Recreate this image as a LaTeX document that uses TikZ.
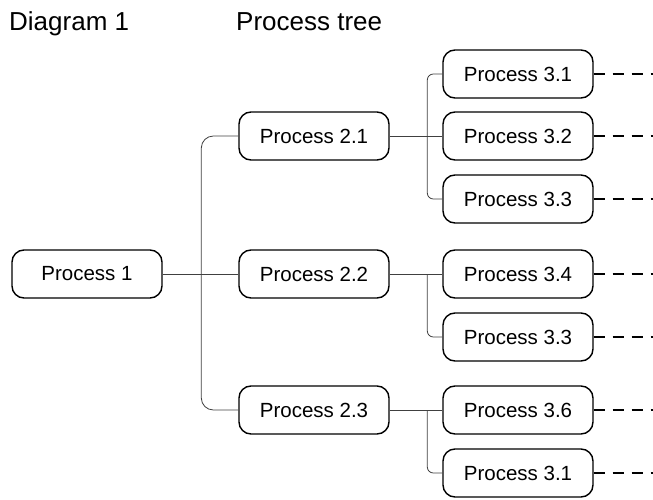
\documentclass[tikz,border=0pt]{standalone}
\usepackage{fontspec}
\setmainfont{Liberation Sans}
\begin{document}
\begin{tikzpicture}[x=1pt,y=-1pt,
    proc/.style={draw,line width=1.4pt,rounded corners=12pt,minimum width=150pt,minimum height=48pt,font=\fontsize{20.5}{24}\selectfont},
    heading/.style={anchor=base west,inner sep=0,font=\fontsize{26}{30}\selectfont},
    conn/.style={draw=black!75,line width=0.8pt},
    tail/.style={line width=2.2pt,dash pattern=on 11pt off 8pt}]
        \useasboundingbox (0,0) rectangle (653,500);
        \node[heading] (title) at (9,31) {Diagram 1};
        \node[heading] (sub) at (236,31) {Process tree};
        \node[proc] (p1) at (87,274) {Process 1};
        \node[proc] (p21) at (314,136) {Process 2.1};
        \node[proc] (p22) at (314,274) {Process 2.2};
        \node[proc] (p23) at (314,410) {Process 2.3};
        \node[proc] (p31) at (518,74) {Process 3.1};
        \node[proc] (p32) at (518,136) {Process 3.2};
        \node[proc] (p33) at (518,199) {Process 3.3};
        \node[proc] (p34) at (518,274) {Process 3.4};
        \node[proc] (p35) at (518,337) {Process 3.3};
        \node[proc] (p36) at (518,410) {Process 3.6};
        \node[proc] (p37) at (518,473) {Process 3.1};
        \draw[conn] (p1.east) -- (p22.west);
        \draw[conn,rounded corners=12pt] (p21.west) -| ([xshift=-37pt]p22.west) |- (p23.west);
        \draw[conn] (p21.east) -- (p32.west);
        \draw[conn,rounded corners=6pt] (p31.west) -| ([xshift=-15pt]p32.west) |- (p33.west);
        \draw[conn] (p22.east) -- (p34.west);
        \draw[conn,rounded corners=6pt] ([xshift=-15pt]p34.west) |- (p35.west);
        \draw[conn] (p23.east) -- (p36.west);
        \draw[conn,rounded corners=6pt] ([xshift=-15pt]p36.west) |- (p37.west);
        \draw[tail] (p31.east) -- ++(62,0);
        \draw[tail] (p32.east) -- ++(62,0);
        \draw[tail] (p33.east) -- ++(62,0);
        \draw[tail] (p34.east) -- ++(62,0);
        \draw[tail] (p35.east) -- ++(62,0);
        \draw[tail] (p36.east) -- ++(62,0);
        \draw[tail] (p37.east) -- ++(62,0);
    \end{tikzpicture}
\end{document}
